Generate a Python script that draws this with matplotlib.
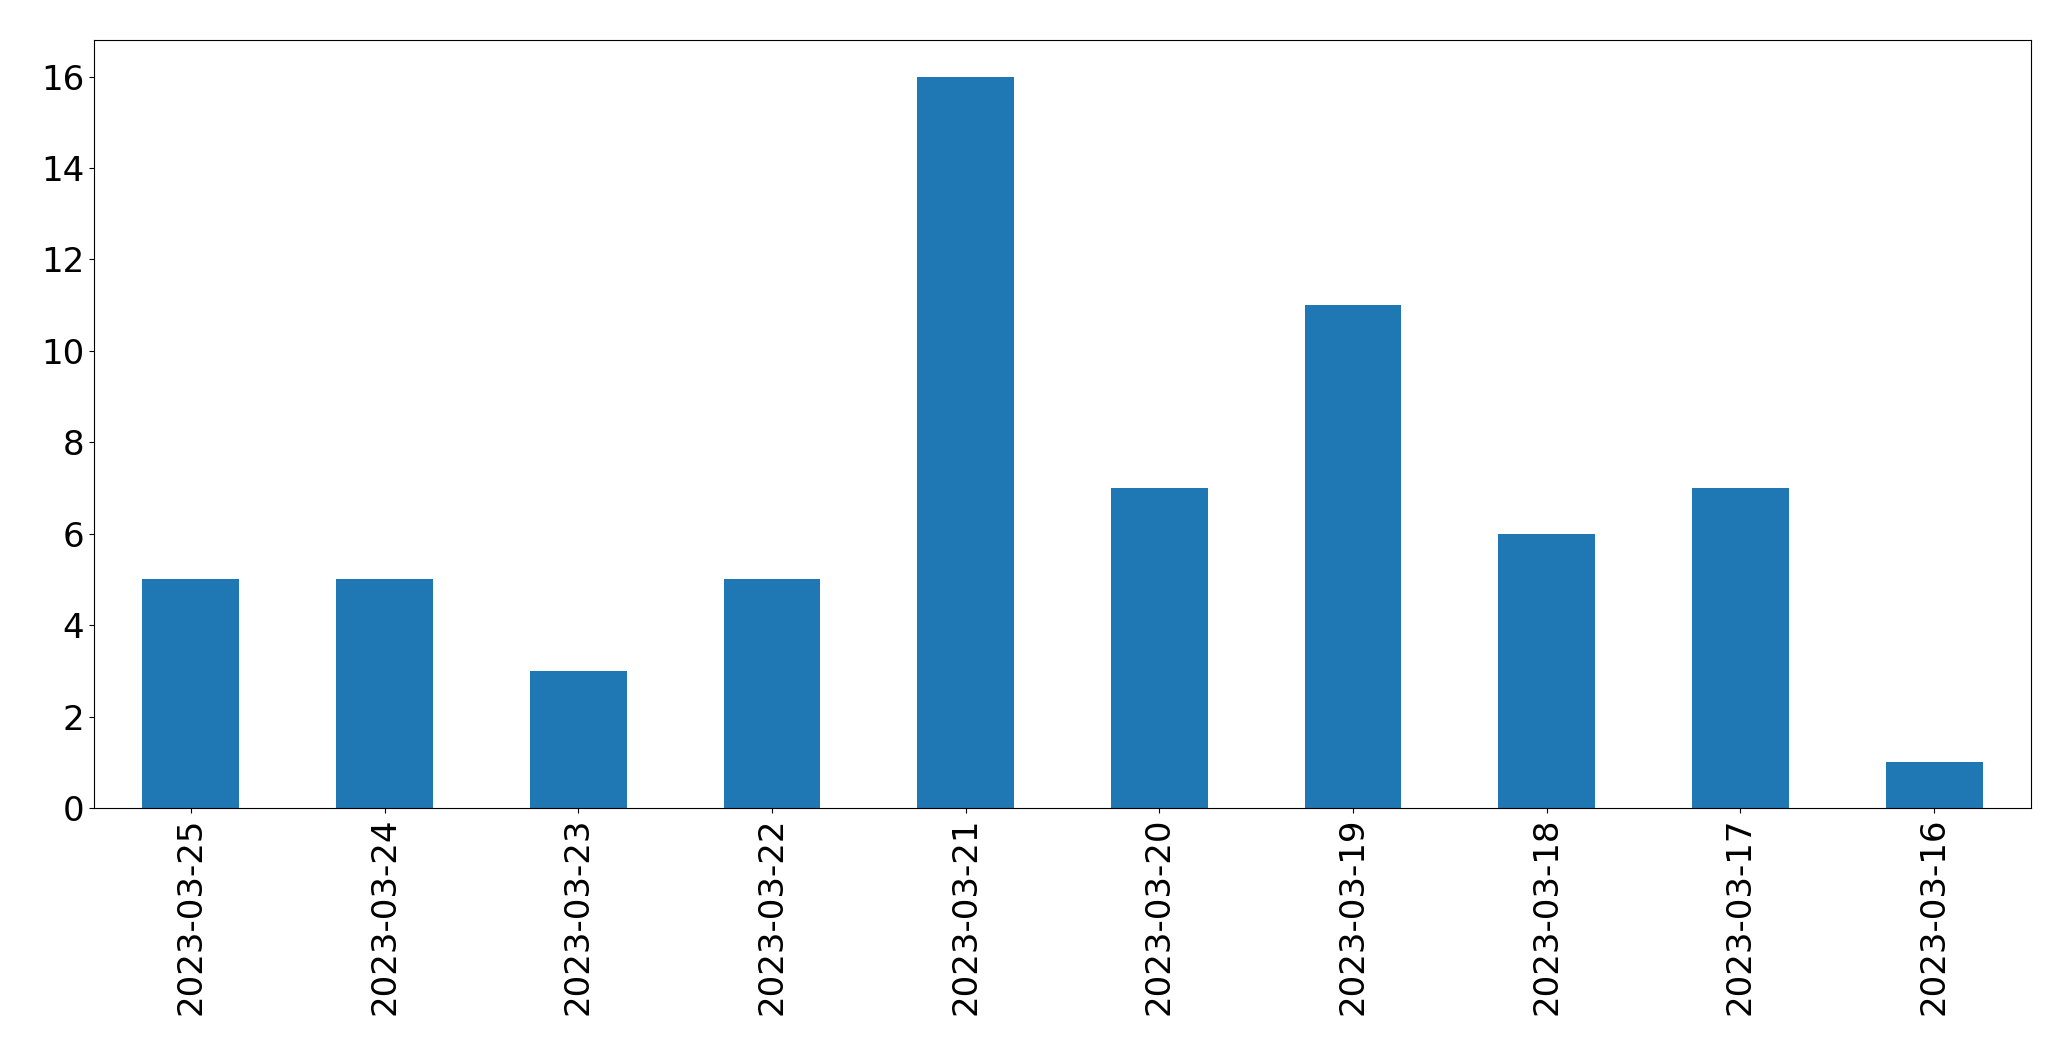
import matplotlib
matplotlib.use("Agg")
import matplotlib.pyplot as plt
import numpy as np

dates = ["2023-03-25", "2023-03-24", "2023-03-23", "2023-03-22", "2023-03-21",
         "2023-03-20", "2023-03-19", "2023-03-18", "2023-03-17", "2023-03-16"]
counts = [5, 5, 3, 5, 16, 7, 11, 6, 7, 1]

fig = plt.figure(figsize=(20.71, 10.61), dpi=100)
ax = fig.add_axes([94/2071, 1 - 808/1061, (2031-94)/2071, (808-40)/1061])
x = np.arange(len(dates))
ax.bar(x, counts, width=0.5, color="#1f77b4")
ax.set_xlim(-0.5, len(dates) - 0.5)
ax.set_xticks(x)
ax.set_xticklabels(dates, rotation=90)
ax.tick_params(axis="both", labelsize=24.5)
fig.savefig("out.png", dpi=100)
